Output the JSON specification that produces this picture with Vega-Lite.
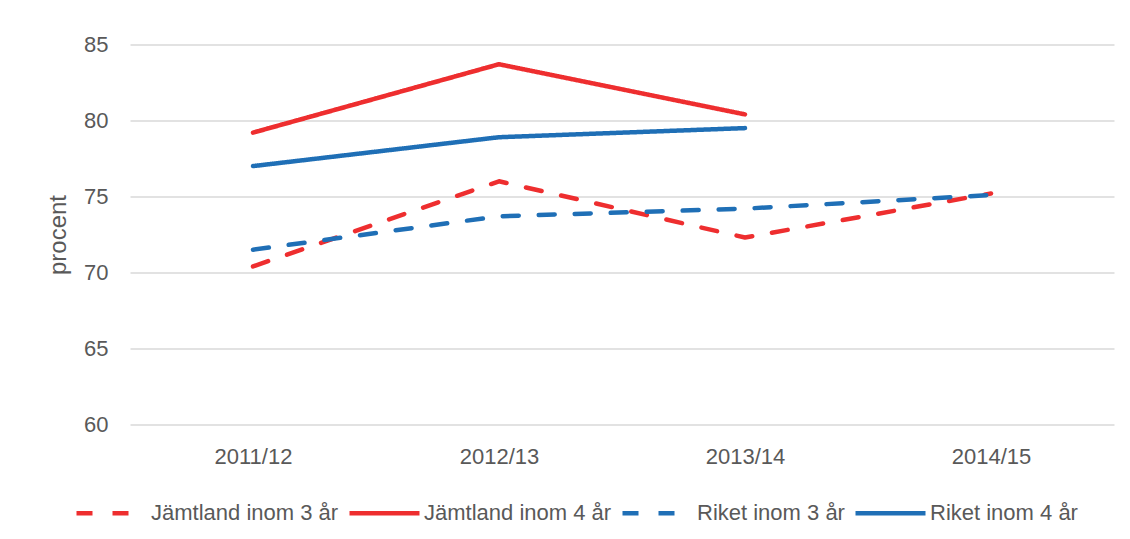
{
  "$schema": "https://vega.github.io/schema/vega-lite/v6.json",
  "width": 984,
  "height": 380,
  "autosize": {"type": "none"},
  "padding": {"left": 130, "top": 44.5, "right": 16, "bottom": 114.5},
  "background": "white",
  "config": {
    "view": {"stroke": null},
    "font": "Liberation Sans",
    "axis": {"labelFont": "Liberation Sans", "titleFont": "Liberation Sans", "labelColor": "#595959", "titleColor": "#595959"},
    "legend": {"labelFont": "Liberation Sans", "labelColor": "#595959"}
  },
  "data": {
    "values": [
      {"year": "2011/12", "series": "Jämtland inom 3 år", "value": 70.4},
      {"year": "2012/13", "series": "Jämtland inom 3 år", "value": 76.0},
      {"year": "2013/14", "series": "Jämtland inom 3 år", "value": 72.3},
      {"year": "2014/15", "series": "Jämtland inom 3 år", "value": 75.2},
      {"year": "2011/12", "series": "Jämtland inom 4 år", "value": 79.2},
      {"year": "2012/13", "series": "Jämtland inom 4 år", "value": 83.7},
      {"year": "2013/14", "series": "Jämtland inom 4 år", "value": 80.4},
      {"year": "2011/12", "series": "Riket inom 3 år", "value": 71.5},
      {"year": "2012/13", "series": "Riket inom 3 år", "value": 73.7},
      {"year": "2013/14", "series": "Riket inom 3 år", "value": 74.2},
      {"year": "2014/15", "series": "Riket inom 3 år", "value": 75.1},
      {"year": "2011/12", "series": "Riket inom 4 år", "value": 77.0},
      {"year": "2012/13", "series": "Riket inom 4 år", "value": 78.9},
      {"year": "2013/14", "series": "Riket inom 4 år", "value": 79.5}
    ]
  },
  "mark": {"type": "line", "strokeWidth": 4.5, "strokeCap": "round", "strokeJoin": "round"},
  "encoding": {
    "x": {
      "field": "year",
      "type": "ordinal",
      "scale": {"type": "point", "padding": 0.5},
      "axis": {
        "title": null,
        "labelAngle": 0,
        "labelFontSize": 22,
        "labelPadding": 22,
        "ticks": false,
        "domain": false,
        "grid": false
      }
    },
    "y": {
      "field": "value",
      "type": "quantitative",
      "scale": {"domain": [60, 85], "nice": false, "zero": false},
      "axis": {
        "title": "procent",
        "titleFontSize": 24,
        "titleFontWeight": "normal",
        "titlePadding": 13,
        "values": [60, 65, 70, 75, 80, 85],
        "labelFontSize": 22,
        "labelPadding": 22,
        "ticks": false,
        "domain": false,
        "grid": true,
        "gridColor": "#d9d9d9",
        "gridWidth": 1.5
      }
    },
    "color": {
      "field": "series",
      "type": "nominal",
      "scale": {
        "domain": ["Jämtland inom 3 år", "Jämtland inom 4 år", "Riket inom 3 år", "Riket inom 4 år"],
        "range": ["#ee2e2f", "#ee2e2f", "#1f6fb6", "#1f6fb6"]
      },
      "legend": {
        "title": null,
        "orient": "none",
        "direction": "horizontal",
        "legendX": -56,
        "legendY": 431,
        "symbolType": "stroke",
        "symbolSize": 4900,
        "symbolStrokeWidth": 4.5,
        "labelFontSize": 22,
        "labelLimit": 400,
        "labelOffset": 2,
        "columnPadding": 1
      }
    },
    "strokeDash": {
      "field": "series",
      "type": "nominal",
      "scale": {
        "domain": ["Jämtland inom 3 år", "Jämtland inom 4 år", "Riket inom 3 år", "Riket inom 4 år"],
        "range": [[16, 20], [1, 0], [16, 20], [1, 0]]
      },
      "legend": null
    }
  }
}
